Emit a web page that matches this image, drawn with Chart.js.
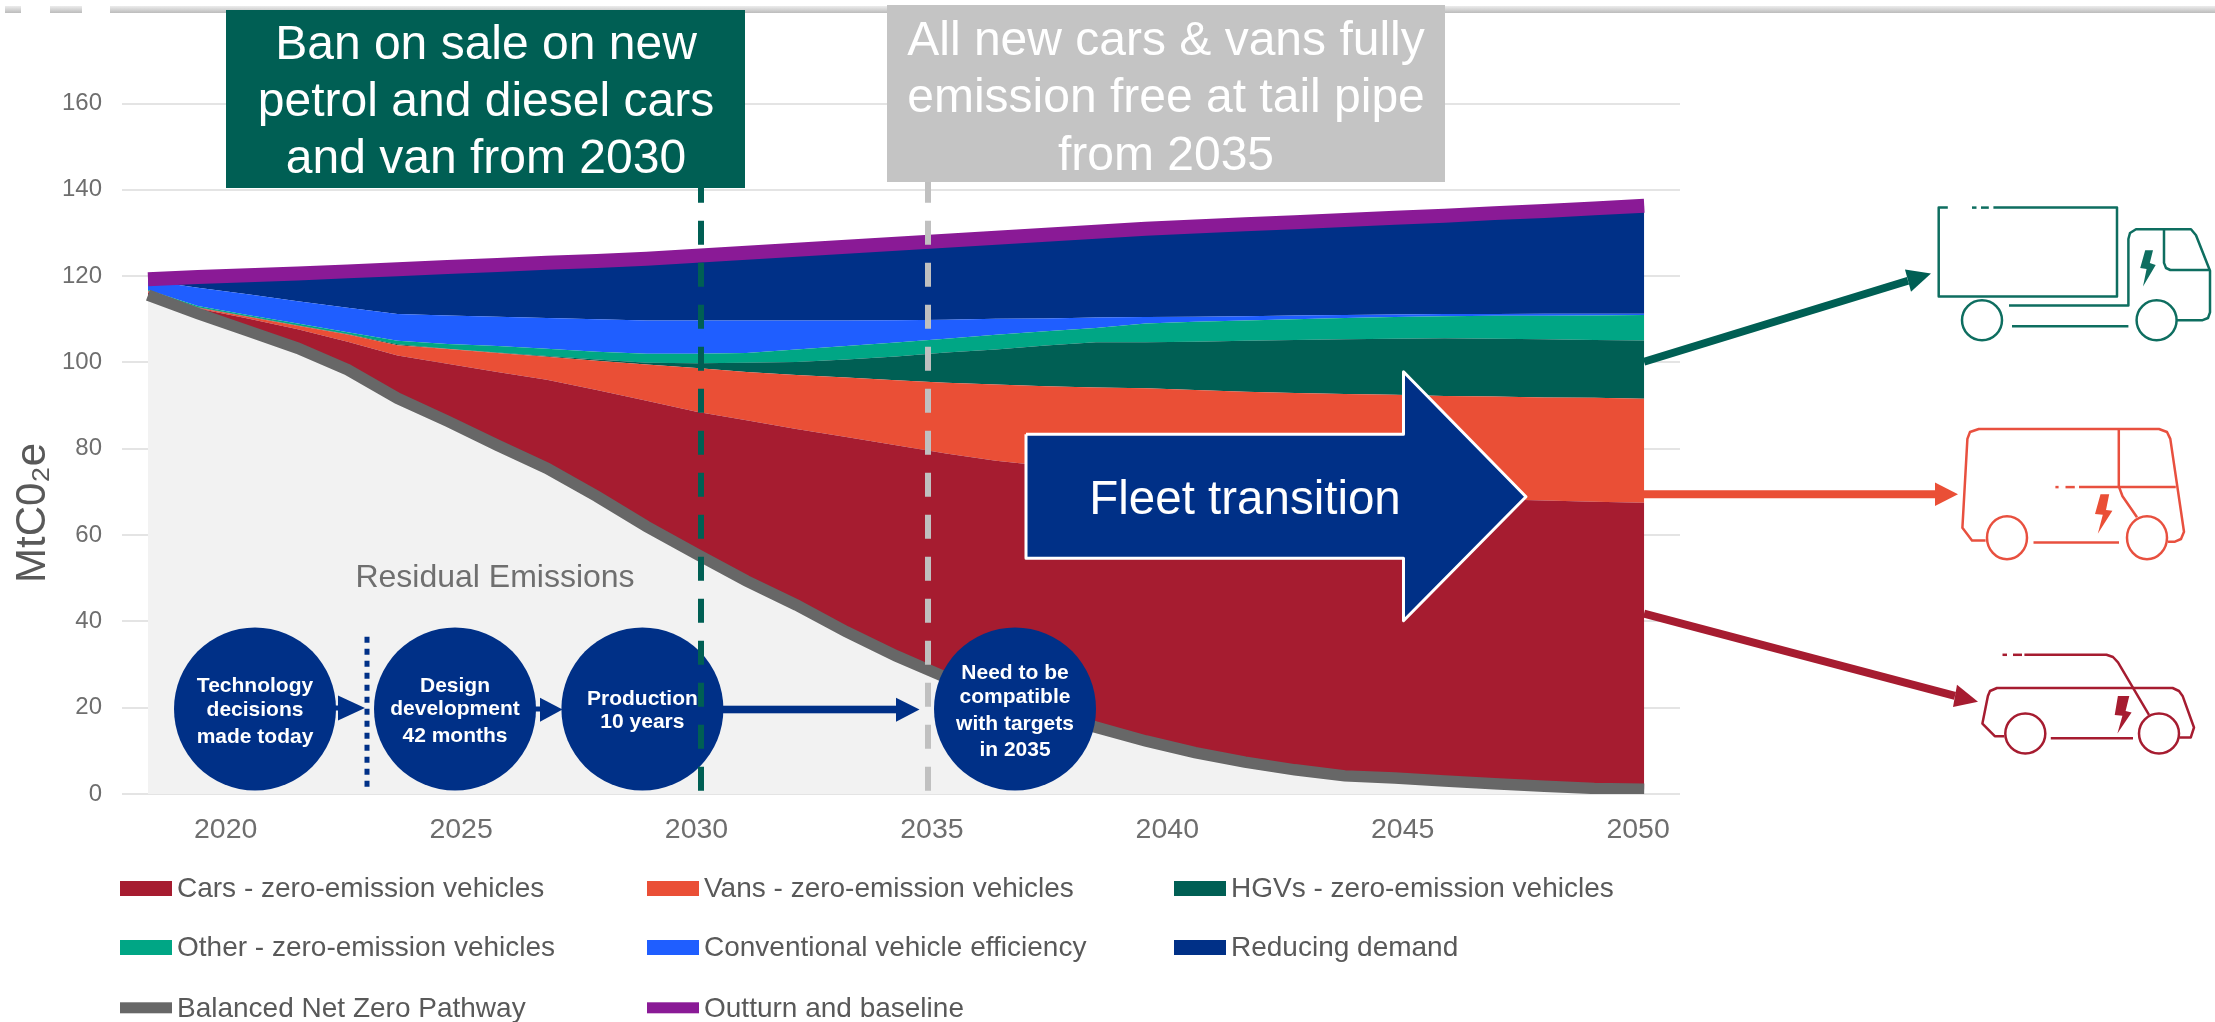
<!DOCTYPE html>
<html>
<head>
<meta charset="utf-8">
<title>Fleet transition</title>
<script src="https://cdn.jsdelivr.net/npm/chart.js@4"></script>
<style>
  html, body { margin: 0; padding: 0; background: #fff; }
  canvas { display: block; }
</style>
</head>
<body>
<canvas id="graph" width="2215" height="1022"></canvas>
<script>
// x position of every reading on the year axis
const years = [2018.35, 2019.41, 2020.47, 2021.53, 2022.59, 2023.65, 2024.71, 2025.77, 2026.82, 2027.88, 2028.94,
  2030.00, 2031.06, 2032.12, 2033.18, 2034.24, 2035.30, 2036.36, 2037.42, 2038.48, 2039.54,
  2040.59, 2041.65, 2042.71, 2043.77, 2044.83, 2045.89, 2046.95, 2048.01, 2049.07, 2050.13];
const xTicks = [2020, 2025, 2030, 2035, 2040, 2045, 2050];

// MtCO2e
const pathway = [115.6, 111.3, 107.3, 103.3, 98.3, 91.7, 86.4, 80.8, 75.5, 69.0, 62.0,
  55.6, 49.4, 43.8, 37.6, 32.0, 27.0, 22.6, 19.0, 15.5, 12.3,
  9.6, 7.4, 5.6, 4.2, 3.7, 3.0, 2.4, 1.8, 1.3, 1.1];
const cars = [0.6, 1.2, 2.9, 4.4, 6.5, 9.9, 13.3, 17.0, 20.5, 24.6, 29.1,
  33.0, 37.2, 40.8, 45.1, 48.8, 51.9, 54.6, 57.0, 59.3, 61.3,
  63.0, 64.3, 65.3, 65.6, 65.5, 65.7, 65.9, 66.2, 66.4, 66.4];
const vans = [0.3, 0.2, 0.4, 0.8, 1.7, 2.4, 3.4, 4.4, 5.3, 6.8, 8.4,
  10.1, 11.2, 12.5, 13.8, 15.1, 16.4, 17.7, 18.5, 19.4, 20.4,
  21.0, 21.5, 22.0, 22.9, 23.3, 23.5, 23.8, 23.9, 24.1, 24.1];
const hgvs = [0.1, 0.1, 0.1, 0.1, 0.1, 0.2, 0.1, 0.1, 0.2, 0.3, 0.4,
  1.1, 2.1, 3.0, 4.2, 5.5, 7.0, 8.1, 9.4, 10.5, 10.7,
  11.2, 11.8, 12.3, 12.7, 13.0, 13.4, 13.4, 13.5, 13.4, 13.5];
const other = [0.2, 0.3, 0.3, 0.4, 0.4, 0.8, 1.1, 1.5, 1.7, 1.8, 2.1,
  2.2, 2.3, 2.9, 3.1, 3.2, 3.2, 3.4, 3.3, 3.3, 4.3,
  4.6, 4.7, 4.8, 4.9, 5.0, 5.1, 5.3, 5.4, 5.7, 5.9];
const efficiency = [2.2, 4.2, 4.8, 5.2, 5.7, 6.2, 6.6, 6.8, 7.1, 7.5, 7.7,
  7.7, 7.5, 6.7, 5.9, 5.2, 4.4, 3.7, 3.0, 2.4, 1.5,
  1.2, 1.0, 0.9, 0.7, 0.6, 0.5, 0.4, 0.5, 0.4, 0.3];
const demand = [0.3, 2.5, 4.4, 6.4, 8.4, 10.4, 11.2, 12.0, 12.8, 13.5, 14.3,
  15.0, 15.7, 16.4, 17.1, 17.7, 18.3, 18.8, 19.4, 19.9, 20.5,
  20.9, 21.3, 21.6, 22.0, 22.4, 22.8, 23.4, 23.8, 24.4, 25.0];
const baseline = [119.3, 119.8, 120.2, 120.6, 121.1, 121.6, 122.1, 122.6, 123.1, 123.5, 124.0,
  124.7, 125.4, 126.1, 126.8, 127.5, 128.2, 128.9, 129.6, 130.3, 131.0,
  131.5, 132.0, 132.5, 133.0, 133.5, 134.0, 134.6, 135.1, 135.7, 136.3];

const NAVY = '#003087', DARKGREEN = '#005f54', GREEN = '#00a685', RED = '#a61c30',
      ORANGE = '#ea4f36', BLUE = '#1f5eff', GREY = '#676767', PURPLE = '#8a1a96';
const FONT = '"Liberation Sans", Arial, sans-serif';

const points = (values) => values.map((v, i) => ({ x: years[i], y: v }));
const area = (label, values, color, fill) => ({
  label: label, data: points(values), backgroundColor: color, borderWidth: 0,
  fill: fill, stack: 'areas', order: 2, pointRadius: 0, tension: 0
});
const line = (label, values, color, width, fill) => ({
  label: label, data: points(values), borderColor: color, borderWidth: width,
  fill: false, stack: label, order: 1, pointRadius: 0, tension: 0,
  borderCapStyle: 'butt', borderJoinStyle: 'miter',
  clip: { left: 4, top: 10, right: 0, bottom: 0 }
});

const legendRows = [
  ['Cars - zero-emission vehicles', 'Vans - zero-emission vehicles', 'HGVs - zero-emission vehicles'],
  ['Other - zero-emission vehicles', 'Conventional vehicle efficiency', 'Reducing demand'],
  ['Balanced Net Zero Pathway', 'Outturn and baseline']
];

function poly(ctx, pts, fill) {
  ctx.beginPath();
  pts.forEach((p, i) => i ? ctx.lineTo(p[0], p[1]) : ctx.moveTo(p[0], p[1]));
  ctx.closePath();
  ctx.fillStyle = fill;
  ctx.fill();
}

function stroke(ctx, pts, color, width) {
  ctx.beginPath();
  pts.forEach((p, i) => i ? ctx.lineTo(p[0], p[1]) : ctx.moveTo(p[0], p[1]));
  ctx.strokeStyle = color;
  ctx.lineWidth = width;
  ctx.lineJoin = 'round';
  ctx.stroke();
}

function wheel(ctx, x, y, color, ry) {
  ctx.beginPath();
  ctx.ellipse(x, y, 20, ry, 0, 0, Math.PI * 2);
  ctx.strokeStyle = color;
  ctx.lineWidth = 2.5;
  ctx.stroke();
}

function text(ctx, lines, x, ys, font, color, align) {
  ctx.font = font;
  ctx.fillStyle = color;
  ctx.textAlign = align || 'center';
  ctx.textBaseline = 'middle';
  lines.forEach((t, i) => ctx.fillText(t, x, ys[i]));
}

function dashed(ctx, x, color) {
  ctx.save();
  ctx.setLineDash([24, 18]);
  ctx.beginPath();
  ctx.moveTo(x, 178.7);
  ctx.lineTo(x, 791);
  ctx.strokeStyle = color;
  ctx.lineWidth = 6;
  ctx.stroke();
  ctx.restore();
}

function bubble(ctx, x, lines, ys) {
  ctx.beginPath();
  ctx.ellipse(x, 709, 81, 81.5, 0, 0, Math.PI * 2);
  ctx.fillStyle = NAVY;
  ctx.fill();
  text(ctx, lines, x, ys, 'bold 21px ' + FONT, '#fff');
}

function arrow(ctx, from, tip, b1, b2, color) {
  stroke(ctx, [from, [(b1[0] + b2[0]) / 2, (b1[1] + b2[1]) / 2]], color, 8);
  poly(ctx, [tip, b1, b2], color);
}

// everything pasted on top of the chart in the source slide
const overlay = {
  id: 'overlay',
  afterDraw(chart) {
    const ctx = chart.ctx;
    ctx.save();

    // cropped ruler along the top edge
    const band = ctx.createLinearGradient(0, 6, 0, 13);
    band.addColorStop(0, '#ececec');
    band.addColorStop(1, '#bcbcbc');
    ctx.fillStyle = band;
    ctx.fillRect(5, 6, 16, 7);
    ctx.fillRect(50, 6, 32, 7);
    ctx.fillRect(110, 6, 2105, 7);

    // y axis title
    ctx.save();
    ctx.translate(33, 513);
    ctx.rotate(-Math.PI / 2);
    text(ctx, ['MtC0₂e'], 0, [0], '42px ' + FONT, '#595959');
    ctx.restore();

    // legend
    const colX = [120, 647, 1174], rowY = [888.5, 947.5, 1007.8];
    legendRows.forEach((row, r) => row.forEach((label, c) => {
      const ds = chart.data.datasets.find(d => d.label === label);
      const isLine = ds.borderWidth > 0;
      ctx.fillStyle = isLine ? ds.borderColor : ds.backgroundColor;
      const h = isLine ? 11 : 15;
      ctx.fillRect(colX[c], rowY[r] - h / 2, 52, h);
      text(ctx, [label], colX[c] + 57, [rowY[r] + 1], '28px ' + FONT, '#595959', 'left');
    }));

    text(ctx, ['Residual Emissions'], 495, [578], '32px ' + FONT, '#6f6f6f');

    // lead times
    ctx.save();
    ctx.setLineDash([6, 6]);
    ctx.beginPath();
    ctx.moveTo(367, 636.7);
    ctx.lineTo(367, 787);
    ctx.strokeStyle = NAVY;
    ctx.lineWidth = 5;
    ctx.stroke();
    ctx.restore();
    stroke(ctx, [[335, 708], [339, 708]], NAVY, 5);
    poly(ctx, [[365, 708], [338, 695.5], [338, 720.5]], NAVY);
    stroke(ctx, [[535, 709], [541, 709]], NAVY, 5);
    poly(ctx, [[562.5, 709.5], [540, 697.7], [540, 721.7]], NAVY);
    ctx.fillStyle = NAVY;
    ctx.fillRect(720, 705.7, 178, 7.6);
    poly(ctx, [[919.5, 709.5], [896, 697.7], [896, 721.7]], NAVY);
    bubble(ctx, 255, ['Technology', 'decisions', 'made today'], [686, 710, 737]);
    bubble(ctx, 455, ['Design', 'development', '42 months'], [686, 709, 736]);
    bubble(ctx, 642.4, ['Production', '10 years'], [699, 722]);
    bubble(ctx, 1015, ['Need to be', 'compatible', 'with targets', 'in 2035'], [673, 697, 724, 750]);

    // ban dates
    dashed(ctx, 701, DARKGREEN);
    dashed(ctx, 928, '#c0c0c0');
    ctx.fillStyle = DARKGREEN;
    ctx.fillRect(226, 10, 519, 178);
    text(ctx, ['Ban on sale on new', 'petrol and diesel cars', 'and van from 2030'],
      486, [46, 103, 160], '48px ' + FONT, '#fff');
    ctx.fillStyle = '#c4c4c4';
    ctx.fillRect(887, 5, 558, 177);
    text(ctx, ['All new cars & vans fully', 'emission free at tail pipe', 'from 2035'],
      1166, [42, 99, 157], '48px ' + FONT, '#fff');

    // fleet transition block arrow
    poly(ctx, [[1026, 434.3], [1403.5, 434.3], [1403.5, 371.7], [1526, 496.7],
      [1403.5, 620.7], [1403.5, 558.3], [1026, 558.3]], NAVY);
    stroke(ctx, [[1026, 434.3], [1403.5, 434.3], [1403.5, 371.7], [1526, 496.7],
      [1403.5, 620.7], [1403.5, 558.3], [1026, 558.3], [1026, 434.3]], '#fff', 3);
    text(ctx, ['Fleet transition'], 1245, [501], '47.5px ' + FONT, '#fff');

    // arrows out to the vehicles
    arrow(ctx, [1644, 361.8], [1931, 273.6], [1905, 269.6], [1911, 291.8], DARKGREEN);
    arrow(ctx, [1644, 494.2], [1958, 494.2], [1935, 482.4], [1935, 506.1], ORANGE);
    arrow(ctx, [1644, 613.7], [1978, 701.8], [1957, 684.8], [1953, 707], RED);

    // truck
    const tc = '#0e6e60';
    stroke(ctx, [[1947.8, 207.6], [1938.7, 207.6], [1938.7, 296.5], [2117, 296.5], [2117, 207.6], [1993.4, 207.6]], tc, 2.5);
    stroke(ctx, [[1972, 207.6], [1976.5, 207.6]], tc, 2.5);
    stroke(ctx, [[1981, 207.6], [1988.8, 207.6]], tc, 2.5);
    stroke(ctx, [[2009, 305.6], [2128.4, 305.6], [2128.4, 239], [2130, 233], [2136, 229.3], [2191, 229.3], [2196, 235.2],
      [2210, 270.8], [2210, 312.3], [2208, 318], [2202, 320.3], [2176.7, 320.3]], tc, 2.5);
    stroke(ctx, [[2164, 229.3], [2164, 262.9], [2166, 268], [2170.3, 270], [2209, 270]], tc, 2.5);
    stroke(ctx, [[2012, 326.2], [2128.4, 326.2]], tc, 2.5);
    wheel(ctx, 1982, 320.3, tc, 20);
    wheel(ctx, 2156.6, 320.3, tc, 20);
    poly(ctx, [[2145.2, 250.3], [2153, 250.3], [2149.8, 262.9], [2155.7, 264.9], [2143, 286.6], [2146.6, 268.9], [2140.2, 268.1]], tc);

    // van
    const vc = '#e8503f';
    stroke(ctx, [[1985.6, 540.5], [1972, 540.5], [1962.4, 527.8], [1967.4, 438.9], [1970, 432], [1978.8, 429],
      [2159, 429], [2167, 432], [2170.3, 438.9], [2184, 531.8], [2181, 539], [2175, 541.7], [2168, 541.7]], vc, 2.5);
    stroke(ctx, [[2033.5, 542.5], [2119, 542.5]], vc, 2.5);
    stroke(ctx, [[2118.8, 429], [2118.8, 486.3], [2122.5, 496.2], [2137, 517.2]], vc, 2.5);
    stroke(ctx, [[2079, 487.1], [2175.8, 487.1]], vc, 2.5);
    stroke(ctx, [[2055.4, 487.1], [2058.6, 487.1]], vc, 2.5);
    stroke(ctx, [[2065.5, 487.1], [2074.8, 487.1]], vc, 2.5);
    wheel(ctx, 2007, 537.7, vc, 21.5);
    wheel(ctx, 2147, 537.7, vc, 21.5);
    poly(ctx, [[2100.5, 494.2], [2109.2, 494.2], [2106, 510], [2112.4, 510.8], [2097.8, 533.8], [2102.8, 514.8], [2095, 514]], ORANGE);

    // car
    stroke(ctx, [[2024.4, 654.8], [2106.5, 654.8], [2113, 657], [2118, 662.3], [2149, 714.9]], RED, 2.5);
    stroke(ctx, [[2002.5, 654.8], [2007, 654.8]], RED, 2.5);
    stroke(ctx, [[2013, 654.8], [2022, 654.8]], RED, 2.5);
    stroke(ctx, [[2004.3, 736.2], [1994.8, 736.2], [1982.4, 723.6], [1987.9, 695.9], [1990, 691], [1997, 688],
      [2172.6, 688], [2179, 691], [2182.6, 695.9], [2194, 727.5], [2190.8, 737.4], [2179.4, 737.4]], RED, 2.5);
    stroke(ctx, [[2050.8, 738.2], [2133, 738.2]], RED, 2.5);
    wheel(ctx, 2025.3, 733.5, RED, 20);
    wheel(ctx, 2159, 733.5, RED, 20);
    poly(ctx, [[2117.9, 695.9], [2129.3, 695.9], [2125.6, 710.9], [2131.6, 712.5], [2117.4, 733.5], [2122.4, 715.7], [2114.7, 714.9]], RED);

    ctx.restore();
  }
};

const ctx = document.getElementById('graph').getContext('2d');
const chart = new Chart(ctx, {
  type: 'line',
  data: {
    datasets: [
      area('Residual Emissions', pathway, '#f2f2f2', 'origin'),
      area('Cars - zero-emission vehicles', cars, RED, '-1'),
      area('Vans - zero-emission vehicles', vans, ORANGE, '-1'),
      area('HGVs - zero-emission vehicles', hgvs, DARKGREEN, '-1'),
      area('Other - zero-emission vehicles', other, GREEN, '-1'),
      area('Conventional vehicle efficiency', efficiency, BLUE, '-1'),
      area('Reducing demand', demand, NAVY, '-1'),
      line('Balanced Net Zero Pathway', pathway, GREY, 11.5),
      line('Outturn and baseline', baseline, PURPLE, 14)
    ]
  },
  options: {
    responsive: false,
    animation: false,
    devicePixelRatio: 1,
    layout: { padding: { top: 103.5, right: 535, left: 0, bottom: 0 } },
    plugins: { legend: { display: false }, tooltip: { enabled: false } },
    scales: {
      x: {
        type: 'linear',
        min: 2018.35,
        max: 2050.89,
        grid: { display: false },
        border: { display: false },
        afterBuildTicks(scale) { scale.ticks = xTicks.map(v => ({ value: v })); },
        afterFit(scale) { scale.height = 228; },
        ticks: {
          autoSkip: false, maxRotation: 0, padding: 11,
          color: '#6e6e6e', font: { family: FONT, size: 28.5 },
          callback: (v) => String(v)
        }
      },
      y: {
        stacked: true,
        min: 0,
        max: 160,
        grid: { color: '#e4e4e4', lineWidth: 2, tickLength: 26 },
        border: { display: false },
        afterFit(scale) { scale.width = 148; },
        ticks: {
          stepSize: 20, padding: 20,
          color: '#6e6e6e', font: { family: FONT, size: 24 }
        }
      }
    }
  },
  plugins: [overlay]
});
</script>
</body>
</html>
